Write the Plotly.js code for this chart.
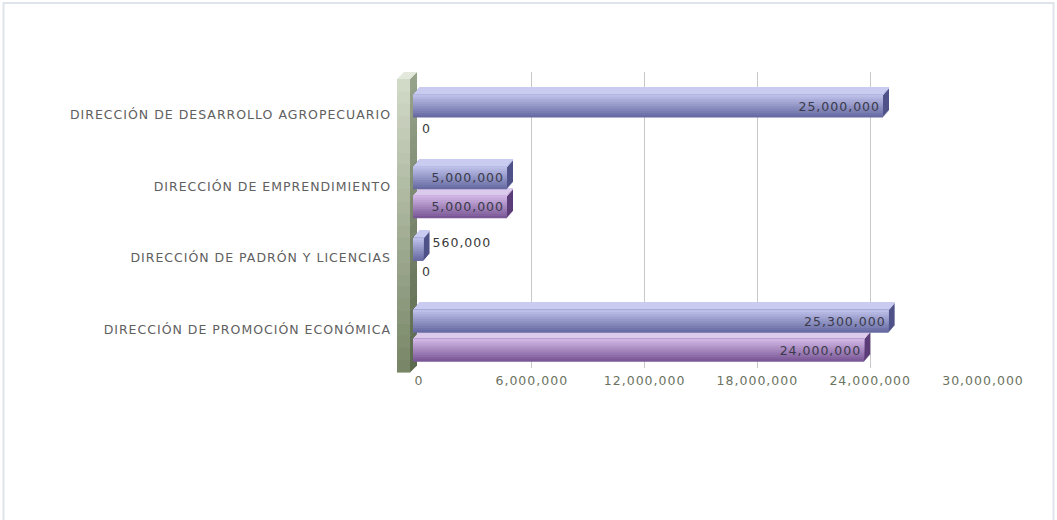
<!DOCTYPE html>
<html>
<head>
<meta charset="utf-8">
<script src="https://cdn.plot.ly/plotly-3.0.1.min.js"></script>
<style>
html,body{margin:0;padding:0;background:#fff;}
#chart{width:1057px;height:520px;}
text{letter-spacing:1px;}
</style>
</head>
<body>
<div id="chart"></div>
<script>
// ---------------- DATA ----------------
const categories = [
  'DIRECCIÓN DE DESARROLLO AGROPECUARIO',
  'DIRECCIÓN DE EMPRENDIMIENTO',
  'DIRECCIÓN DE PADRÓN Y LICENCIAS',
  'DIRECCIÓN DE PROMOCIÓN ECONÓMICA'
];
const seriesA = [25000000, 5000000, 560000, 25300000];
const seriesB = [0, 5000000, 0, 24000000];
const xTickValues = [0, 6000000, 12000000, 18000000, 24000000, 30000000];
const xTickLabels = ['0', '6,000,000', '12,000,000', '18,000,000', '24,000,000', '30,000,000'];

// ---------------- GEOMETRY / STYLE ----------------
const W = 1057, H = 520;
const DX = 6, DY = 7;                 // 3D depth offset (px)
const PX_PER_CAT = 71.7;
const FRONT = {x0: 413, x1: 977, y0: 79, y1: 375};
const X_RANGE = [0, 30000000];
const Y_RANGE = [3.535, -0.593];
const FONT = 'DejaVu Sans, Verdana, sans-serif';

function hexToRgb(h){h=h.replace('#','');return [0,2,4].map(i=>parseInt(h.substr(i,2),16));}
function mix(a,b,t){const A=hexToRgb(a),B=hexToRgb(b);return 'rgb('+A.map((v,i)=>Math.round(v+(B[i]-v)*t)).join(',')+')';}
function px(x){return x/W;}
function py(y){return 1-y/H;}
function fmt(v){return v.toLocaleString('en-US');}

const seriesStyles = [
  {values: seriesA, name: 'Serie 1', offPx: -27, hPx: 23,
   top: '#bcbfe8', bottom: '#676ba2', topFace: '#c9cbf0', side: '#4f5389'},
  {values: seriesB, name: 'Serie 2', offPx: 2, hPx: 23,
   top: '#d0b6e4', bottom: '#7a5796', topFace: '#dccaec', side: '#5c3d78'}
];

// depth planes: j = 1 (back, d = DY) ... j = DY + 1 (front, d = 0)
const layout = {
  width: W, height: H,
  margin: {l:0, r:0, t:0, b:0},
  paper_bgcolor: '#ffffff', plot_bgcolor: 'rgba(0,0,0,0)',
  barmode: 'overlay',
  showlegend: false,
  font: {family: FONT, size: 12.5, color: '#5f5f5f'}
};
function axName(prefix, j){return prefix + 'axis' + (j === 1 ? '' : j);}
function axId(prefix, j){return prefix + (j === 1 ? '' : j);}
const NP = DY + 1;
for (let j = 1; j <= NP; j++) {
  const d = NP - j;
  const x0 = FRONT.x0 + d * DX / DY, x1 = FRONT.x1 + d * DX / DY;
  const y0 = FRONT.y0 - d, y1 = FRONT.y1 - d;
  const xa = {domain:[px(x0), px(x1)], range:X_RANGE, anchor:axId('y', j), fixedrange:true};
  const ya = {domain:[py(y1), py(y0)], type:'category', categoryarray:categories, categoryorder:'array',
    range:Y_RANGE, anchor:axId('x', j), fixedrange:true};
  if (j === 1) {
    Object.assign(xa, {tickmode:'array', tickvals:xTickValues, ticktext:xTickLabels,
      showgrid:true, gridcolor:'#c9c9c9', gridwidth:1, zeroline:false, showline:false, ticks:'',
      ticklabelstandoff:3, tickfont:{family:FONT, size:12.5, color:'#6b735f'}});
    Object.assign(ya, {showgrid:false, zeroline:false, showline:false, ticks:'',
      ticklabelstandoff:27, tickfont:{family:FONT, size:12.5, color:'#606060'}});
  } else {
    xa.visible = false; ya.visible = false;
  }
  layout[axName('x', j)] = xa;
  layout[axName('y', j)] = ya;
}

const traces = [];
// extruded depth: side + top rows on every plane behind the front
for (let j = 1; j < NP; j++) {
  seriesStyles.forEach(s => {
    const off = s.offPx / PX_PER_CAT, w = s.hPx / PX_PER_CAT;
    traces.push({type:'bar', orientation:'h', x:s.values, y:categories, xaxis:axId('x', j), yaxis:axId('y', j),
      offset:off, width:w, marker:{color:s.side, line:{width:0}}, hoverinfo:'skip', showlegend:false, name:s.name});
    traces.push({type:'bar', orientation:'h', x:s.values, y:categories, xaxis:axId('x', j), yaxis:axId('y', j),
      offset:off, width:1.4 / PX_PER_CAT, marker:{color:s.topFace, line:{width:0}}, hoverinfo:'skip', showlegend:false, name:s.name});
  });
}
// front faces with stepped gradient
const NB = 10;
seriesStyles.forEach(s => {
  const off = s.offPx / PX_PER_CAT, w = s.hPx / PX_PER_CAT;
  for (let k = 0; k < NB; k++) {
    const frac = (NB - k) / NB;
    traces.push({type:'bar', orientation:'h', x:s.values, y:categories, xaxis:axId('x', NP), yaxis:axId('y', NP),
      offset:off, width:w * frac, marker:{color:mix(s.bottom, s.top, k / (NB - 1)), line:{width:0}},
      hoverinfo:'skip', showlegend:false, name:s.name});
  }
});
// value labels
const LABEL_MIN = 2000000;
seriesStyles.forEach(s => {
  const off = s.offPx / PX_PER_CAT, w = s.hPx / PX_PER_CAT;
  traces.push({type:'bar', orientation:'h', x:s.values, y:categories, xaxis:axId('x', NP), yaxis:axId('y', NP),
    offset:off, width:w, marker:{color:'rgba(0,0,0,0)', line:{width:0}},
    text:s.values.map(v => v >= LABEL_MIN ? fmt(v) : ''), textposition:'inside', insidetextanchor:'end',
    insidetextfont:{family:FONT, size:12.5, color:'#3a3a4a'}, cliponaxis:false,
    hoverinfo:'skip', showlegend:false, name:s.name});
  traces.push({type:'bar', orientation:'h', x:s.values, y:categories, xaxis:'x', yaxis:'y',
    offset:off, width:w, marker:{color:'rgba(0,0,0,0)', line:{width:0}},
    text:s.values.map(v => v < LABEL_MIN ? fmt(v) : ''), textposition:'outside',
    outsidetextfont:{family:FONT, size:12.5, color:'#3a3a3a'}, cliponaxis:false,
    hoverinfo:'skip', showlegend:false, name:s.name});
});

// ---------------- DECORATION: 3D wall & frame ----------------
const shapes = [];
shapes.push({type:'rect', xref:'paper', yref:'paper', x0:px(3.5), x1:px(1053.5), y0:-0.02, y1:py(3),
  line:{color:'#dfe4ea', width:2}, fillcolor:'rgba(0,0,0,0)', layer:'above'});
const WALL = {x0: 397, x1: 410, yTop: 79, yBot: 372};
const NW = 24;
for (let i = 0; i < NW; i++) {
  const t0 = i / NW, t1 = (i + 1) / NW;
  const ya = WALL.yTop + (WALL.yBot - WALL.yTop) * t0, yb = WALL.yTop + (WALL.yBot - WALL.yTop) * t1 + 0.6;
  const c = mix('#d3dbc9', '#778566', (t0 + t1) / 2);
  shapes.push({type:'rect', xref:'paper', yref:'paper', x0:px(WALL.x0), x1:px(WALL.x1), y0:py(yb), y1:py(ya),
    fillcolor:c, line:{width:0}, layer:'below'});
  const cs = mix('#98a38b', '#5a684c', (t0 + t1) / 2);
  const p = `M ${px(WALL.x1)} ${py(ya)} L ${px(WALL.x1 + DX + 1)} ${py(ya - DY)} L ${px(WALL.x1 + DX + 1)} ${py(yb - DY)} L ${px(WALL.x1)} ${py(yb)} Z`;
  shapes.push({type:'path', xref:'paper', yref:'paper', path:p, fillcolor:cs, line:{width:0}, layer:'below'});
}
shapes.push({type:'path', xref:'paper', yref:'paper',
  path:`M ${px(WALL.x0)} ${py(WALL.yTop)} L ${px(WALL.x0 + DX + 1)} ${py(WALL.yTop - DY)} L ${px(WALL.x1 + DX + 1)} ${py(WALL.yTop - DY)} L ${px(WALL.x1)} ${py(WALL.yTop)} Z`,
  fillcolor:'#e3e8dc', line:{width:0}, layer:'below'});
layout.shapes = shapes;

Plotly.newPlot('chart', traces, layout, {displayModeBar:false, responsive:false});
</script>
</body>
</html>
